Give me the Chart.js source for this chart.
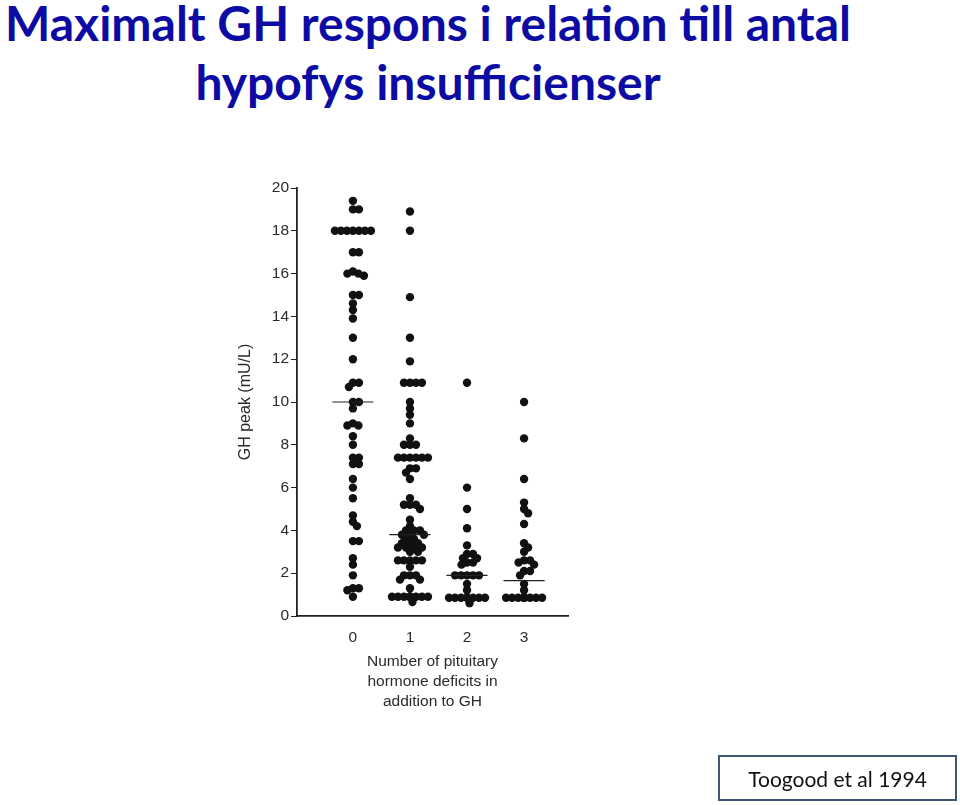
<!DOCTYPE html>
<html>
<head>
<meta charset="utf-8">
<script src="https://cdn.jsdelivr.net/npm/chart.js@4.4.1/dist/chart.umd.min.js"></script>
<style>
  html, body { margin: 0; padding: 0; background: #fff; }
  #page { position: relative; width: 960px; height: 805px; overflow: hidden; }
  #chart { position: absolute; left: 0; top: 0; }
  .title { position: absolute; left: 0; width: 856px; text-align: center; white-space: nowrap;
           font-family: 'Lato', sans-serif; font-weight: 700; font-size: 48px; color: #0c0ca4; line-height: 1; }
  #t1 { top: -1px; }
  #t2 { top: 58px; }
  #source { position: absolute; left: 718px; top: 755px; width: 235px; height: 42px;
            border: 2px solid #3d5677; font-family: 'Lato', sans-serif; font-size: 21px;
            line-height: 44px; text-align: center; color: #111; }
</style>
</head>
<body>
<div id="page">
  <div class="title" id="t1">Maximalt GH respons i relation till antal</div>
  <div class="title" id="t2">hypofys insufficienser</div>
  <canvas id="chart" width="960" height="805"></canvas>
  <div id="source">Toogood et al 1994</div>
</div>
<script>
/* GH peak (mU/L) per patient, grouped by number of extra pituitary deficits */
var deficitGroups = [0, 1, 2, 3];
var xTickLabels = ['0', '1', '2', '3'];
var yTicks = [0, 2, 4, 6, 8, 10, 12, 14, 16, 18, 20];

var ghPeak0 = [19.4, 19.0, 19.0, 18.0, 18.0, 18.0, 18.0, 18.0, 18.0, 18.0, 17.0, 17.0,
  16.1, 16.0, 16.0, 15.9, 15.0, 15.0, 14.6, 14.3, 13.9, 13.0, 12.0, 10.9, 10.9, 10.7,
  10.0, 10.0, 9.7, 9.0, 8.9, 8.9, 8.4, 8.0, 7.4, 7.4, 7.1, 7.1, 6.4, 6.0, 5.5,
  4.7, 4.4, 4.2, 3.5, 3.5, 2.7, 2.4, 1.9, 1.3, 1.3, 1.2, 0.9];
var ghPeak1 = [18.9, 18.0, 14.9, 13.0, 11.9, 10.9, 10.9, 10.9, 10.9, 10.0, 9.7, 9.4, 9.0,
  8.3, 8.0, 8.0, 8.0, 7.4, 7.4, 7.4, 7.4, 7.4, 7.4, 6.9, 6.9, 6.7, 6.4, 5.5,
  5.2, 5.2, 5.2, 5.0, 4.5, 4.2, 4.0, 4.0, 4.0, 3.8, 3.8, 3.8, 3.6, 3.6,
  3.4, 3.4, 3.4, 3.2, 3.2, 3.2, 3.2, 3.0, 3.0, 2.6, 2.6, 2.6, 2.6, 2.6, 2.3,
  1.9, 1.9, 1.9, 1.7, 1.7, 1.3,
  0.9, 0.9, 0.9, 0.9, 0.9, 0.9, 0.9, 0.9, 0.9, 0.9, 0.9, 0.65];
var ghPeak2 = [10.9, 6.0, 5.0, 4.1, 3.3, 2.9, 2.9, 2.7, 2.7, 2.5, 2.5, 2.4,
  1.9, 1.9, 1.9, 1.9, 1.9, 1.5, 1.2,
  0.85, 0.85, 0.85, 0.85, 0.85, 0.85, 0.85, 0.85, 0.6];
var ghPeak3 = [10.0, 8.3, 6.4, 5.3, 5.0, 4.8, 4.3, 3.4, 3.2, 3.0, 2.6, 2.6, 2.5, 2.4,
  2.1, 2.1, 1.9, 1.5, 1.2,
  0.85, 0.85, 0.85, 0.85, 0.85, 0.85, 0.85, 0.85, 0.85, 0.85];
var medians = [10.0, 3.8, 1.9, 1.65];

/* ---------- axis extents (chart area is pinned by padding below) ---------- */
var X_MIN = -0.98, X_MAX = 3.77;
var AREA_W = 271, AREA_H = 428;
var pxPerX = AREA_W / (X_MAX - X_MIN);
var pxPerY = AREA_H / 20;

/* simple beeswarm: nudge each dot sideways until it clears the ones already placed */
function swarm(center, values) {
  var gap = 5.8, placed = [], out = [];
  values.forEach(function (v) {
    var py = v * pxPerY, best = 0;
    for (var k = 0; k < 80; k++) {
      var off = (k % 2 ? 1 : -1) * Math.ceil(k / 2) * 0.5;
      var ok = placed.every(function (p) {
        var dx = p.x - off, dy = p.y - py;
        return dx * dx + dy * dy >= gap * gap;
      });
      if (ok) { best = off; break; }
    }
    placed.push({ x: best, y: py });
    out.push({ x: center + best / pxPerX, y: v });
  });
  return out;
}

var groups = [ghPeak0, ghPeak1, ghPeak2, ghPeak3];
var dots = [];
groups.forEach(function (vals, i) { dots = dots.concat(swarm(deficitGroups[i], vals)); });

var medianSets = medians.map(function (m, i) {
  return {
    type: 'line', data: [{ x: deficitGroups[i] - 0.36, y: m }, { x: deficitGroups[i] + 0.36, y: m }],
    borderColor: '#222', borderWidth: 1.2, pointRadius: 0, showLine: true, order: 0
  };
});

var axisText = '#2a2a2a';
var axisFont = { family: "'Liberation Sans', Arial, sans-serif", size: 15.5 };

new Chart(document.getElementById('chart'), {
  type: 'scatter',
  data: {
    datasets: [{
      data: dots, backgroundColor: '#111', borderWidth: 0, pointRadius: 4.2, order: 1
    }].concat(medianSets)
  },
  options: {
    responsive: false,
    animation: false,
    layout: { padding: { left: 232, top: 188, right: 392, bottom: 79 } },
    plugins: { legend: { display: false }, tooltip: { enabled: false } },
    scales: {
      x: {
        type: 'linear', min: X_MIN, max: X_MAX,
        afterBuildTicks: function (s) { s.ticks = deficitGroups.map(function (v) { return { value: v }; }); },
        afterFit: function (s) { s.height = 110; },
        grid: { display: false },
        border: { display: true, color: '#222', width: 1.8 },
        ticks: {
          color: axisText, font: axisFont, padding: 4, maxRotation: 0,
          callback: function (v) { return xTickLabels[deficitGroups.indexOf(v)]; }
        },
        title: {
          display: true, color: axisText,
          text: ['Number of pituitary', 'hormone deficits in', 'addition to GH'],
          font: { family: "'Liberation Sans', Arial, sans-serif", size: 15.5, lineHeight: '20px' },
          padding: { top: 4, bottom: 14 }
        }
      },
      y: {
        min: 0, max: 20,
        afterBuildTicks: function (s) { s.ticks = yTicks.map(function (v) { return { value: v }; }); },
        afterFit: function (s) { s.width = 65; },
        grid: { drawOnChartArea: false, drawTicks: true, tickLength: 6, color: '#222', lineWidth: 1 },
        border: { display: true, color: '#222', width: 1.8 },
        ticks: { color: axisText, font: axisFont, padding: 2 },
        title: {
          display: true, text: 'GH peak (mU/L)', color: axisText,
          font: { family: "'Liberation Sans', Arial, sans-serif", size: 16 }
        }
      }
    }
  }
});
</script>
</body>
</html>
